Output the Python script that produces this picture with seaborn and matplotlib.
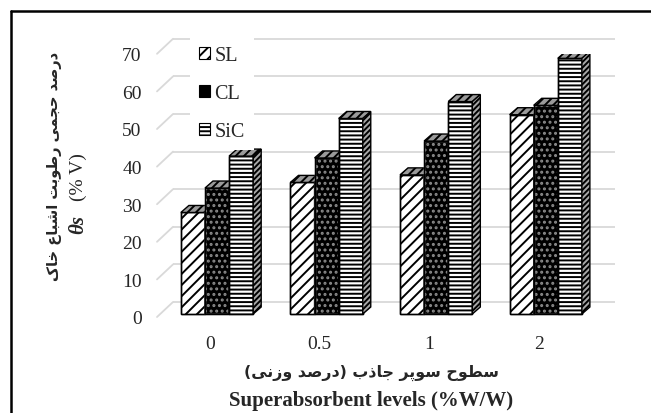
import numpy as np
import pandas as pd
import matplotlib
matplotlib.use("Agg")
import matplotlib.pyplot as plt
import matplotlib.transforms as mtransforms
from matplotlib.patches import Polygon, Rectangle, Patch
from matplotlib.lines import Line2D
import seaborn as sns

# ---------------- data ----------------
levels = ["0", "0.5", "1", "2"]
series = ["SL", "CL", "SiC"]
sl_vals = [27.0, 35.0, 37.0, 53.0]
cl_vals = [33.5, 41.5, 46.0, 55.5]
sic_vals = [42.0, 52.0, 56.5, 68.0]
yticks = [0, 10, 20, 30, 40, 50, 60, 70]

ylabel_fa = "درصد حجمی رطوبت اشباع خاک"
ylabel_sym = "θs"
ylabel_unit = "(% V)"
xlabel_fa = "سطوح سوپر جاذب (درصد وزنی)"
xlabel_en = "Superabsorbent levels (%W/W)"

# ---------- simple Persian shaping (no complex text layout in matplotlib) ----------
FORMS = {
    'ا': ('\uFE8D', '\uFE8E', None, None),
    'ب': ('\uFE8F', '\uFE90', '\uFE91', '\uFE92'),
    'پ': ('\uFB56', '\uFB57', '\uFB58', '\uFB59'),
    'ت': ('\uFE95', '\uFE96', '\uFE97', '\uFE98'),
    'ج': ('\uFE9D', '\uFE9E', '\uFE9F', '\uFEA0'),
    'ح': ('\uFEA1', '\uFEA2', '\uFEA3', '\uFEA4'),
    'خ': ('\uFEA5', '\uFEA6', '\uFEA7', '\uFEA8'),
    'د': ('\uFEA9', '\uFEAA', None, None),
    'ذ': ('\uFEAB', '\uFEAC', None, None),
    'ر': ('\uFEAD', '\uFEAE', None, None),
    'ز': ('\uFEAF', '\uFEB0', None, None),
    'س': ('\uFEB1', '\uFEB2', '\uFEB3', '\uFEB4'),
    'ش': ('\uFEB5', '\uFEB6', '\uFEB7', '\uFEB8'),
    'ص': ('\uFEB9', '\uFEBA', '\uFEBB', '\uFEBC'),
    'ط': ('\uFEC1', '\uFEC2', '\uFEC3', '\uFEC4'),
    'ع': ('\uFEC9', '\uFECA', '\uFECB', '\uFECC'),
    'ک': ('\uFB8E', '\uFB8F', '\uFB90', '\uFB91'),
    'م': ('\uFEE1', '\uFEE2', '\uFEE3', '\uFEE4'),
    'ن': ('\uFEE5', '\uFEE6', '\uFEE7', '\uFEE8'),
    'و': ('\uFEED', '\uFEEE', None, None),
    'ی': ('\uFBFC', '\uFBFD', '\uFBFE', '\uFBFF'),
}


def shape(s):
    out = []
    for i, c in enumerate(s):
        if c not in FORMS:
            out.append(c)
            continue
        f = FORMS[c]
        prev = s[i - 1] if i > 0 else ''
        nxt = s[i + 1] if i + 1 < len(s) else ''
        jp = prev in FORMS and FORMS[prev][2] is not None
        jn = f[2] is not None and nxt in FORMS
        if jp and jn:
            out.append(f[3])
        elif jp:
            out.append(f[1])
        elif jn:
            out.append(f[2])
        else:
            out.append(f[0])
    vis = ''.join(reversed(out))
    return vis.translate(str.maketrans('()', ')('))


# ---------------- style ----------------
sns.set_theme(style="white")
plt.rcParams['font.family'] = ['Liberation Serif', 'DejaVu Serif']
plt.rcParams['hatch.linewidth'] = 1.4

W, H, DPI = 651, 414, 100
fig = plt.figure(figsize=(W / DPI, H / DPI), dpi=DPI)

# axes = front plane of the pseudo-3D chart
ax_left, ax_right = 157, 599
ax_bottom, ax_top = 318, 54.8
ax = fig.add_axes([ax_left / W, 1 - ax_bottom / H, (ax_right - ax_left) / W, (ax_bottom - ax_top) / H])

df = pd.DataFrame({
    "level": levels * 3,
    "series": [s for s in series for _ in levels],
    "value": sl_vals + cl_vals + sic_vals,
})

sns.barplot(data=df, x="level", y="value", hue="series", order=levels, hue_order=series,
            width=0.66, errorbar=None, legend=False, saturation=1, ax=ax,
            palette=["white", "black", "white"])

ax.set_xlim(-0.484, 3.55)
ax.set_ylim(0, 70)
ax.set_yticks(yticks)
ax.set_yticklabels([str(t) for t in yticks])
for s in ax.spines.values():
    s.set_visible(False)
ax.tick_params(axis='y', length=0, pad=11, labelsize=14)
ax.tick_params(axis='x', length=0, pad=13, labelsize=14)
ax.set_xlabel("")
ax.set_ylabel("")
ax.grid(False)
ax.patch.set_alpha(0)

fig.canvas.draw()
p0 = ax.transData.transform((0, 0))
p1 = ax.transData.transform((1, 1))
px_x = p1[0] - p0[0]
px_y = p1[1] - p0[1]

# back-wall gridlines (wall is 16 px right, 15 px up from front plane)
wall_dx, wall_dy = 16, 15
wall_off = mtransforms.ScaledTranslation(wall_dx / DPI, wall_dy / DPI, fig.dpi_scale_trans)
xl = ax.get_xlim()
for t in yticks:
    ax.plot([xl[0], xl[1]], [t, t], color='#d9d9d9', lw=1.3, zorder=0.5,
            transform=ax.transData + wall_off, clip_on=False, solid_capstyle='butt')
    ax.plot([xl[0], xl[0] + wall_dx / px_x], [t, t + wall_dy / px_y], color='#d9d9d9', lw=1.3,
            zorder=0.5, clip_on=False)

# styling of bars and 3D faces
front_style = {
    "SL": dict(facecolor='white', edgecolor='black', hatch='///'),
    "CL": dict(facecolor='black', edgecolor='#8a8a8a', hatch='...'),
    "SiC": dict(facecolor='white', edgecolor='black', hatch='----'),
}
bar_off = mtransforms.ScaledTranslation(7 / DPI, 3 / DPI, fig.dpi_scale_trans)
ddx, ddy = 8 / px_x, 7 / px_y

bars = [p for p in ax.patches if isinstance(p, Rectangle)]
n_lv = len(levels)
for i, b in enumerate(bars):
    k = i // n_lv
    name = series[k]
    st = front_style[name]
    b.set_facecolor(st['facecolor'])
    b.set_edgecolor(st['edgecolor'])
    b.set_hatch(st['hatch'])
    b.set_linewidth(1.0)
    if hasattr(b, 'set_hatchcolor'):
        b.set_hatchcolor(st['edgecolor'])
    b.set_transform(ax.transData + bar_off)
    zo = 3 + k
    b.set_zorder(zo)
    x0, w, h = b.get_x(), b.get_width(), b.get_height()
    tr = ax.transData + bar_off
    # outline
    ax.add_patch(Rectangle((x0, 0), w, h, fill=False, edgecolor='black', lw=1.0,
                           transform=tr, zorder=zo))
    # top face
    top = Polygon([(x0, h), (x0 + w, h), (x0 + w + ddx, h + ddy), (x0 + ddx, h + ddy)],
                  closed=True, facecolor='#9a9a9a', edgecolor='black', lw=1.0,
                  hatch='////', transform=tr, zorder=zo)
    ax.add_patch(top)
    # side face
    side = Polygon([(x0 + w, 0), (x0 + w + ddx, ddy), (x0 + w + ddx, h + ddy), (x0 + w, h)],
                   closed=True, facecolor='#a6a6a6', edgecolor='black', lw=1.0,
                   hatch='//////', transform=tr, zorder=zo)
    ax.add_patch(side)

# legend
handles = [Patch(facecolor=front_style[s]['facecolor'], edgecolor='black',
                 hatch=front_style[s]['hatch'], lw=0.8) for s in series]
leg = ax.legend(handles, series, loc='upper left',
                bbox_to_anchor=(190 / W, 1 - 38 / H), bbox_transform=fig.transFigure,
                frameon=True, fancybox=False, framealpha=1, edgecolor='none', facecolor='white',
                fontsize=14.5, handlelength=0.55, handleheight=0.55, handletextpad=0.2,
                labelspacing=0.95, borderpad=0.45, borderaxespad=0)
leg.set_zorder(10)

# axis titles
fa_font = dict(family=['DejaVu Sans'], weight='bold')
fig.text(55 / W, 1 - 166 / H, shape(ylabel_fa), rotation=90, ha='center', va='center',
         fontsize=10.5, **fa_font)
fig.text(78 / W, 1 - 234 / H, ylabel_sym, rotation=90, rotation_mode='anchor', ha='left',
         va='center', fontsize=15, family=['Liberation Serif'], weight='bold', style='italic')
fig.text(78 / W, 1 - 201 / H, ylabel_unit, rotation=90, rotation_mode='anchor', ha='left',
         va='center', fontsize=14, family=['Liberation Serif'])
fig.text(372 / W, 1 - 373 / H, shape(xlabel_fa), ha='center', va='center', fontsize=11.4, **fa_font)
fig.text(371 / W, 1 - 401 / H, xlabel_en, ha='center', va='center', fontsize=15,
         family=['Liberation Serif'], weight='bold')

# outer frame (left and top border visible)
fig.add_artist(Line2D([11 / W, 11 / W], [0, 1 - 12 / H], color='black', lw=1.8,
                      transform=fig.transFigure))
fig.add_artist(Line2D([11 / W, 1], [1 - 12 / H, 1 - 12 / H], color='black', lw=1.8,
                      transform=fig.transFigure))

fig.savefig("out.png", dpi=DPI)
